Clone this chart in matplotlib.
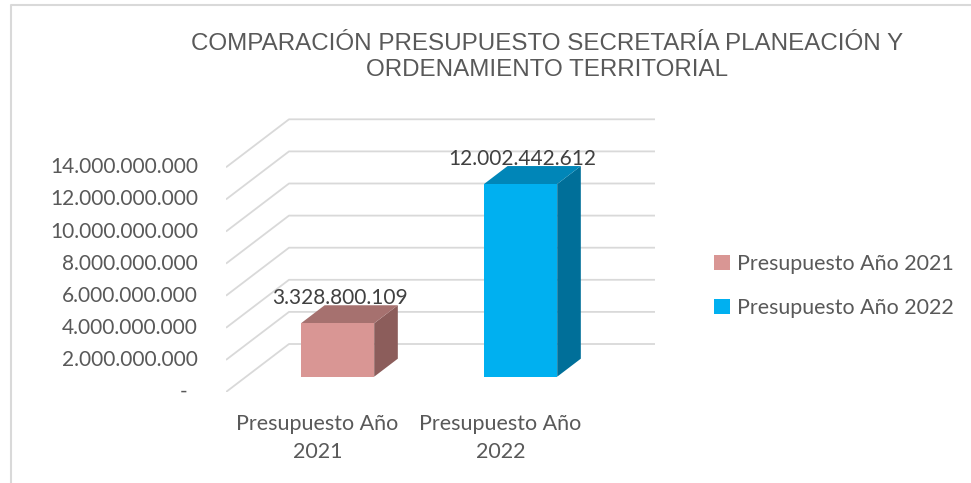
import matplotlib
matplotlib.use("Agg")
import matplotlib.pyplot as plt
from matplotlib.patches import Polygon, Patch
from matplotlib.lines import Line2D

# ---------------- data ----------------
categories = ["Presupuesto Año\n2021", "Presupuesto Año\n2022"]
series_names = ["Presupuesto Año 2021", "Presupuesto Año 2022"]
values = [3328800109, 12002442612]
value_labels = ["3.328.800.109", "12.002.442.612"]
yticks = [0, 2e9, 4e9, 6e9, 8e9, 10e9, 12e9, 14e9]
ytick_labels = ["-  ", "2.000.000.000", "4.000.000.000", "6.000.000.000",
                "8.000.000.000", "10.000.000.000", "12.000.000.000", "14.000.000.000"]
title = "COMPARACIÓN PRESUPUESTO SECRETARÍA PLANEACIÓN Y\nORDENAMIENTO TERRITORIAL"

front_colors = ["#d99694", "#00b0f0"]
top_colors = ["#a6716f", "#0086b8"]
side_colors = ["#8c5d5b", "#006f99"]

W, H = 971, 483
fig = plt.figure(figsize=(W / 100, H / 100), dpi=100)
fig.patch.set_facecolor("white")

# pixel geometry of the plotting area
x_left_px, x_right_px = 226, 655
y0_px, ytop_px = 392, 110
px_per_unit_x = 183.0
px_per_unit_y = 16.05e-9
DX = 63 / px_per_unit_x
DY = 48 / px_per_unit_y
xmin = -0.5
xmax = xmin + (x_right_px - x_left_px) / px_per_unit_x
ymax = (y0_px - ytop_px) / px_per_unit_y

ax = fig.add_axes([x_left_px / W, (H - y0_px) / H,
                   (x_right_px - x_left_px) / W, (y0_px - ytop_px) / H])
ax.set_xlim(xmin, xmax)
ax.set_ylim(0, ymax)
ax.axis("off")

FONT = ["Lato", "DejaVu Sans"]
TXT = "#595959"
grid_c = "#d9d9d9"

# gridlines (side wall diagonal + back wall horizontal)
ncat = len(categories)
for t, lab in zip(yticks, ytick_labels):
    ax.plot([xmin, xmin + DX, xmin + ncat + DX], [t, t + DY, t + DY],
            color=grid_c, lw=1.3, zorder=1, solid_capstyle="butt")
    ax.annotate(lab, xy=(xmin, t), xytext=(-28, 0), textcoords="offset pixels",
                ha="right", va="center", fontsize=15, color=TXT, family=FONT)

# bars
f0, f1 = 0.319, 0.694
hw = 0.2
for i, v in enumerate(values):
    c = i
    ox, oy = f0 * DX, f0 * DY
    bx, by = f1 * DX, f1 * DY
    side = Polygon([(c + hw + ox, oy), (c + hw + bx, by), (c + hw + bx, v + by),
                    (c + hw + ox, v + oy)], closed=True, fc=side_colors[i], ec="none", zorder=3)
    top = Polygon([(c - hw + ox, v + oy), (c + hw + ox, v + oy), (c + hw + bx, v + by),
                   (c - hw + bx, v + by)], closed=True, fc=top_colors[i], ec="none", zorder=3)
    front = Polygon([(c - hw + ox, oy), (c + hw + ox, oy), (c + hw + ox, v + oy),
                     (c - hw + ox, v + oy)], closed=True, fc=front_colors[i], ec="none", zorder=4)
    for p in (side, top, front):
        ax.add_patch(p)
    ax.annotate(value_labels[i], xy=(c + ox, v + by), xytext=(2, 7),
                textcoords="offset pixels", ha="center", va="center",
                fontsize=15, color="#404040", family=FONT, zorder=6)

# category labels
for i, lab in enumerate(categories):
    ax.annotate(lab, xy=(i, 0), xytext=(0, -46), textcoords="offset pixels",
                ha="center", va="center", fontsize=15.5, color=TXT, family=FONT,
                linespacing=1.55, annotation_clip=False)

# title
fig.text(547 / W, 1 - 57 / H, title, ha="center", va="center", fontsize=17.4,
         color=TXT, family=["Liberation Sans", "DejaVu Sans"], linespacing=1.22)

# legend
handles = [Patch(facecolor=front_colors[i], edgecolor="none") for i in range(len(series_names))]
leg = fig.legend(handles, series_names, loc="center left",
                 bbox_to_anchor=(695 / W, 1 - 286 / H), frameon=False,
                 handlelength=0.72, handleheight=0.72, handletextpad=0.35,
                 labelspacing=1.15, prop={"family": FONT, "size": 15.4})
for t in leg.get_texts():
    t.set_color(TXT)

# outer frame (left and top edges)
fig.add_artist(Line2D([10.5 / W, 10.5 / W, 1.0], [0, 1 - 4.5 / H, 1 - 4.5 / H],
                      transform=fig.transFigure, color="#d9d9d9", lw=1.5))

fig.savefig("out.png", dpi=100)
